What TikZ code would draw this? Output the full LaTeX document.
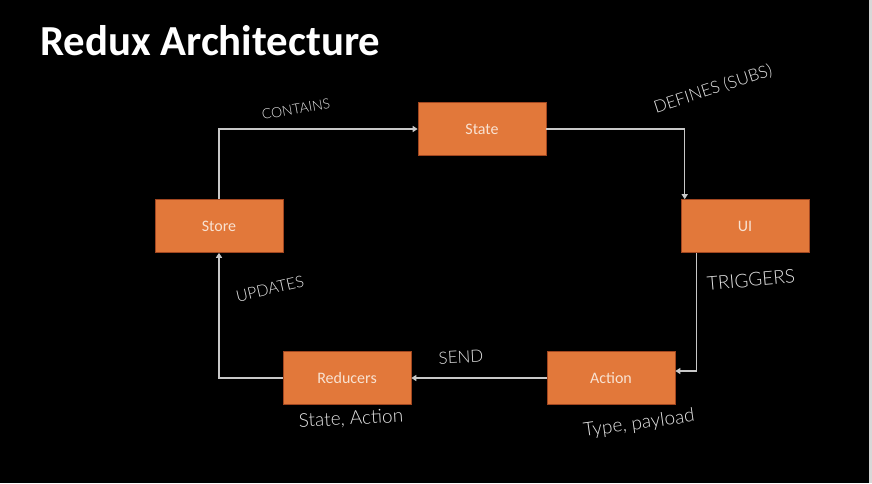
\documentclass[tikz,border=0pt]{standalone}
\usepackage{fontspec}
\setmainfont{Carlito}
\newfontfamily\handfont{Lato Light}
\usetikzlibrary{arrows.meta}
\definecolor{boxorange}{RGB}{226,120,58}
\definecolor{boxedge}{RGB}{160,70,32}
\definecolor{boxtext}{RGB}{248,226,210}
\definecolor{flowgray}{RGB}{200,200,200}
\definecolor{inkgray}{RGB}{228,228,228}
\tikzset{
	box/.style={fill=boxorange,draw=boxedge,line width=0.6pt,minimum width=128pt,minimum height=53pt,inner sep=0pt,text=boxtext,font=\fontsize{16}{18}\selectfont},
	flow/.style={draw=flowgray,line width=1.5pt,-{Triangle[length=5pt,width=6pt]}},
	note/.style={text=inkgray,inner sep=1pt,font=\handfont\fontsize{16}{18}\selectfont}
}
\begin{document}
\begin{tikzpicture}[x=1pt,y=-1pt]
	\fill[black] (0,0) rectangle (872,483);
	\useasboundingbox (0,0) rectangle (872,483);
	\fill[flowgray!70] (869,0) rectangle (872,483);

	\node [anchor=base west,inner sep=0pt,text=white,font=\bfseries\fontsize{42.8}{48}\selectfont] (title) at (40,55) {Redux Architecture};

	\foreach \n/\t/\x/\y in {store/Store/219/226, state/State/482/129, ui/UI/745/226, reducers/Reducers/347/378, action/Action/611/378}
	{
		\node [box] (\n) at (\x,\y) {\t};
	}

	\draw [flow] (store.north) |- (state.west);
	\draw [flow] (state.east) -| ([xshift=4pt]ui.north west);
	\draw [flow] ([xshift=16pt]ui.south west) |- ([yshift=7pt]action.east);
	\draw [flow] (action.west) -- (reducers.east);
	\draw [flow] (reducers.west) -| (store.south);

	\foreach \n/\t/\x/\y/\r/\s in {contains/CONTAINS/296/109/10/14, defines/{DEFINES (SUBS)}/713/89/18/17, triggers/TRIGGERS/751/280/5/19, send/SEND/461/357/3/17, updates/UPDATES/270/289/13/16, stateaction/{State, Action}/351/419/3/19, typepayload/{Type, payload}/639/424/8/19}
	{
		\node [note,rotate=\r,font=\handfont\fontsize{\s}{\s}\selectfont] (\n) at (\x,\y) {\t};
	}
\end{tikzpicture}
\end{document}
